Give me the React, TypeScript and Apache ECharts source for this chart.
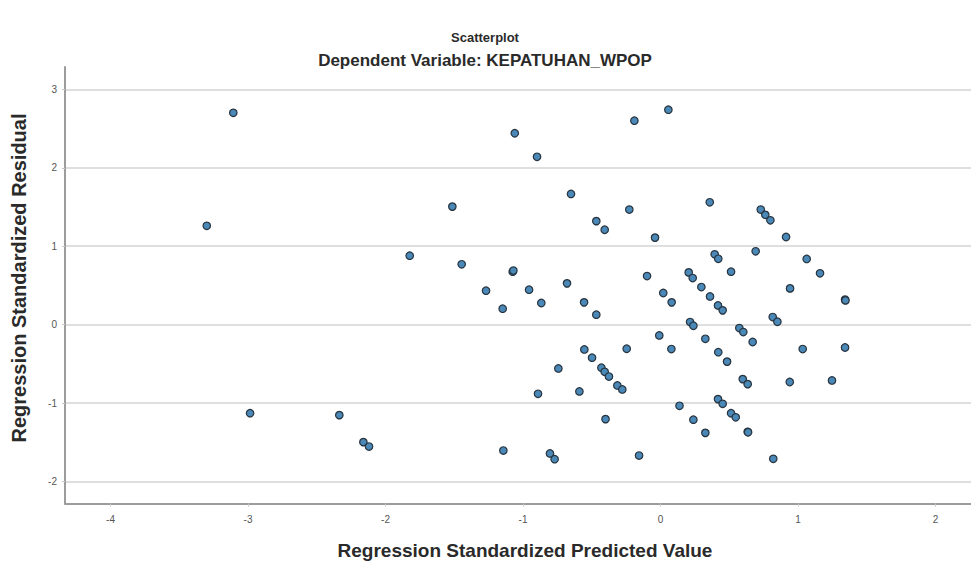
import React, { useEffect, useRef } from "react";
import * as echarts from "echarts";

const titleText = "Scatterplot";
const subtitleText = "Dependent Variable: KEPATUHAN_WPOP";
const xAxisTitle = "Regression Standardized Predicted Value";
const yAxisTitle = "Regression Standardized Residual";

// Regression standardized predicted values (x)
const predicted = [
  -3.107, -3.3, -2.985, -2.336, -2.161, -2.12, 0.057, -0.19, -1.06, -0.898,
  -0.651, -1.514, -0.227, -0.467, -0.406, -0.04, -1.824, -1.446, -1.075, -1.07,
  -0.68, -0.098, -1.269, -0.956, 0.02, 0.081, -1.148, -0.867, -0.556, -0.467,
  -0.009, 0.079, -0.246, -0.554, -0.498, -0.743, -0.43, -0.406, -0.375, -0.314,
  -0.278, -0.59, -0.891, 0.138, -0.4, -1.143, -0.804, -0.77, -0.156, 0.358,
  0.729, 0.762, 0.799, 0.913, 0.692, 0.394, 0.42, 1.063, 0.513, 1.16,
  0.205, 0.234, 0.297, 0.942, 0.36, 1.342, 1.345, 0.418, 0.452, 0.816,
  0.85, 0.215, 0.239, 0.573, 0.602, 0.326, 0.67, 0.42, 0.484, 1.034,
  1.342, 0.598, 0.634, 0.94, 1.247, 0.418, 0.452, 0.513, 0.547, 0.239,
  0.326, 0.634, 0.637, 0.82,
];

// Regression standardized residuals (y)
const residual = [
  2.7, 1.26, -1.127, -1.152, -1.496, -1.552, 2.74, 2.6, 2.44, 2.14,
  1.667, 1.505, 1.467, 1.32, 1.21, 1.11, 0.88, 0.77, 0.676, 0.69,
  0.527, 0.62, 0.434, 0.446, 0.404, 0.285, 0.204, 0.277, 0.285, 0.128,
  -0.136, -0.31, -0.306, -0.315, -0.42, -0.557, -0.548, -0.6, -0.66, -0.774,
  -0.825, -0.85, -0.88, -1.033, -1.203, -1.603, -1.64, -1.713, -1.667, 1.56,
  1.467, 1.4, 1.33, 1.118, 0.935, 0.897, 0.84, 0.838, 0.676, 0.655,
  0.667, 0.595, 0.48, 0.463, 0.36, 0.32, 0.31, 0.246, 0.183, 0.098,
  0.038, 0.034, -0.013, -0.043, -0.094, -0.179, -0.22, -0.35, -0.47, -0.31,
  -0.29, -0.693, -0.757, -0.73, -0.71, -0.948, -1.008, -1.127, -1.18, -1.21,
  -1.378, -1.365, -1.37, -1.709,
];

const xMin = -4.331;
const xMax = 2.258;
const yMin = -2.278;
const yMax = 3.284;

export default function App() {
  const ref = useRef<HTMLDivElement>(null);
  useEffect(() => {
    if (!ref.current) return;
    const chart = echarts.init(ref.current, undefined, { renderer: "svg" });
    const data = predicted.map((x, i) => [x, residual[i]]);
    const fontFamily = "'Liberation Sans', Arial, sans-serif";
    const intLabel = (v: number) =>
      Math.abs(v - Math.round(v)) < 1e-6 ? String(Math.round(v)) : "";
    const centered = {
      textAlign: "center",
      textVerticalAlign: "middle",
      align: "center",
      verticalAlign: "middle",
    };
    chart.setOption({
      animation: false,
      backgroundColor: "#ffffff",
      grid: { left: 65, right: 0, top: 67, bottom: 60.5, containLabel: false },
      xAxis: {
        type: "value",
        min: xMin,
        max: xMax,
        splitNumber: 7,
        axisLine: { show: true, onZero: false, lineStyle: { color: "#9c9c9c", width: 2 } },
        axisTick: { show: true, length: 3, lineStyle: { color: "#c8c8c8" } },
        axisLabel: {
          show: true,
          color: "#555",
          fontSize: 10,
          fontFamily,
          margin: 11,
          showMinLabel: false,
          showMaxLabel: false,
          formatter: intLabel,
        },
        splitLine: { show: false },
      },
      yAxis: {
        type: "value",
        min: yMin,
        max: yMax,
        splitNumber: 6,
        axisLine: { show: true, onZero: false, lineStyle: { color: "#9c9c9c", width: 2 } },
        axisTick: { show: true, length: 3, lineStyle: { color: "#c8c8c8" } },
        axisLabel: {
          show: true,
          color: "#555",
          fontSize: 10,
          fontFamily,
          margin: 8,
          showMinLabel: false,
          showMaxLabel: false,
          formatter: intLabel,
        },
        splitLine: {
          show: true,
          showMinLine: false,
          showMaxLine: false,
          lineStyle: { color: "#d4d4d4", width: 1.6 },
        },
      },
      series: [
        {
          type: "scatter",
          data,
          symbol: "circle",
          symbolSize: 7.5,
          itemStyle: {
            color: "#4a88b8",
            borderColor: "#27343f",
            borderWidth: 1.2,
            opacity: 1,
          },
        },
      ],
      graphic: [
        {
          type: "text",
          x: 485,
          y: 37,
          style: {
            text: titleText,
            font: `bold 13px ${fontFamily}`,
            fill: "#2a2a2a",
            ...centered,
          },
        },
        {
          type: "text",
          x: 485,
          y: 60,
          style: {
            text: subtitleText,
            font: `bold 17px ${fontFamily}`,
            fill: "#2a2a2a",
            ...centered,
          },
        },
        {
          type: "text",
          x: 525,
          y: 550,
          style: {
            text: xAxisTitle,
            font: `bold 19px ${fontFamily}`,
            fill: "#2a2a2a",
            ...centered,
          },
        },
        {
          type: "text",
          x: 19,
          y: 278,
          rotation: Math.PI / 2,
          style: {
            text: yAxisTitle,
            font: `bold 20px ${fontFamily}`,
            fill: "#2a2a2a",
            ...centered,
          },
        },
      ],
    });
    return () => chart.dispose();
  }, []);
  return (
    <div
      ref={ref}
      style={{ position: "absolute", left: 0, top: 0, width: 971, height: 564 }}
    />
  );
}
